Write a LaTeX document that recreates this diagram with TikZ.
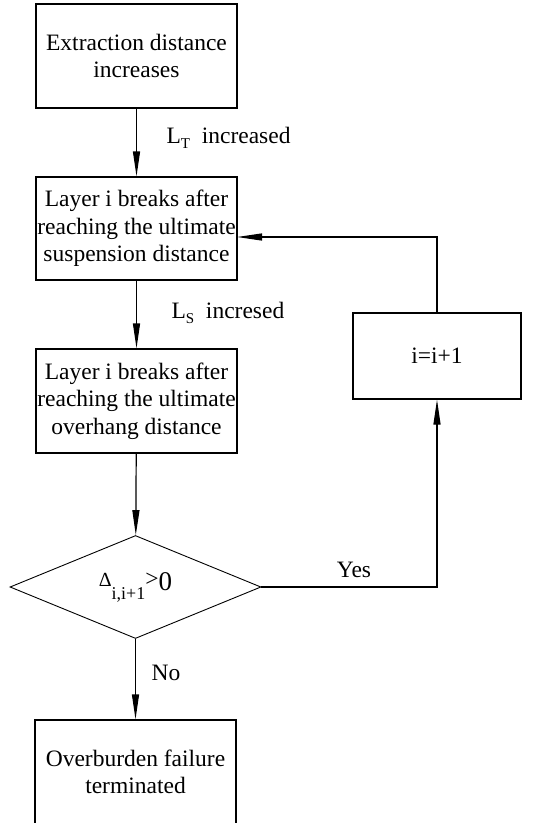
\documentclass[tikz,border=0pt]{standalone}
\usepackage{fontspec}
\setmainfont{Liberation Serif}
\usetikzlibrary{positioning,arrows.meta,shapes.geometric}

\begin{document}
\begin{tikzpicture}[x=1pt, y=-1pt, >={Triangle[length=25pt,width=7pt]}, every node/.style={font=\fontsize{23.5}{27.5}\selectfont}]
\tikzset{
  procbox/.style={
    draw,
    rectangle,
    line width=1.2pt,
    align=center,
    inner sep=1pt,
    minimum width=201pt,
    minimum height=104pt,
  },
  decbox/.style={
    draw,
    diamond,
    line width=0.9pt,
    inner sep=0pt,
    minimum width=251pt,
    minimum height=94pt,
  },
  flow/.style={line width=1.2pt}
}
\useasboundingbox (0,0) rectangle (541,823);

\node[procbox] (A) at (136.5,56) {Extraction distance\\increases};
\node[procbox, minimum height=103pt] (B) at (136.5,228.5) {Layer i breaks after\\reaching the ultimate\\suspension distance};
\node[procbox] (C) at (136.5,401) {Layer i breaks after\\reaching the ultimate\\overhang distance};
\node[decbox] (D) at (135.5,587) {\raisebox{4pt}{\fontsize{20}{20}\selectfont Δ}\raisebox{-9pt}{\fontsize{18}{18}\selectfont i,i+1}\raisebox{4pt}{>}{\fontsize{27}{27}\selectfont 0}};
\node[procbox] (E) at (135.5,772) {Overburden failure\\terminated};
\node[procbox, minimum width=168pt, minimum height=86pt] (F) at (437,356) {i=i+1};
\coordinate (Bin) at (237,237);

\node[anchor=west] (LT) at (163,138) {L\raisebox{-5pt}{\fontsize{15}{15}\selectfont T}\ \ increased};
\node[anchor=west] (LS) at (168,313) {L\raisebox{-5pt}{\fontsize{15}{15}\selectfont S}\ \ incresed};
\node (Y) at (354,570) {Yes};
\node (N) at (166,673) {No};

\draw[flow,->] (A) -- (B);
\draw[flow,->] (B) -- (C);
\draw[flow,->] (C) -- (D);
\draw[flow,->] (D) -- (E);

\draw[flow,->] (D.east) -| (F.south);
\draw[flow,->] (F.north) |- (Bin);

\end{tikzpicture}
\end{document}
